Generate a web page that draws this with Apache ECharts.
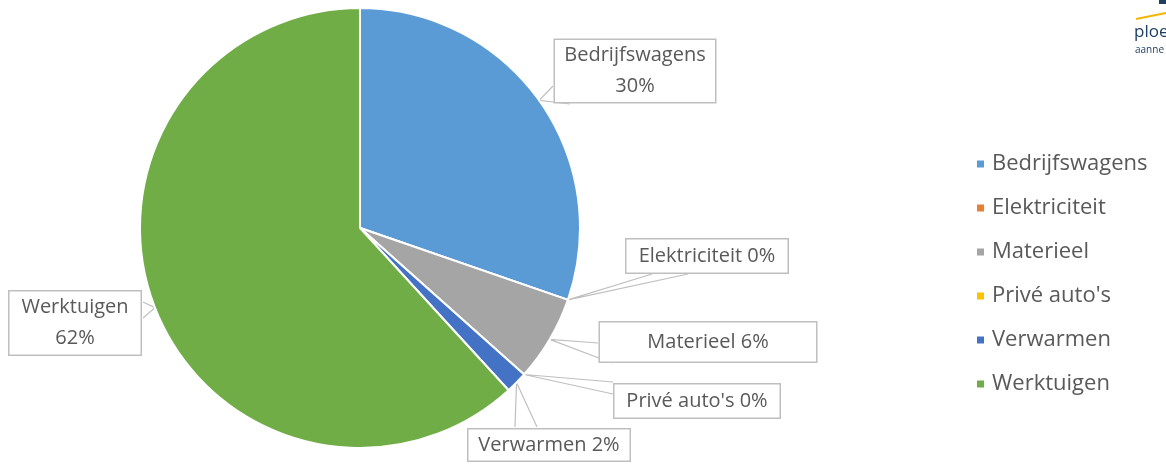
<!DOCTYPE html>
<html>
<head>
<meta charset="utf-8">
<script src="https://cdn.jsdelivr.net/npm/echarts@6/dist/echarts.min.js"></script>
<style>
html, body { margin: 0; padding: 0; background: #fff; }
#chart { width: 1166px; height: 464px; }
</style>
</head>
<body>
<div id="chart"></div>
<script>
// categorieen en aandeel (%)
var categories = ['Bedrijfswagens', 'Elektriciteit', 'Materieel', "Privé auto's", 'Verwarmen', 'Werktuigen'];
var values = [30.3, 0, 6.3, 0, 1.6, 61.8];
var colors = ['#5B9BD5', '#ED7D31', '#A5A5A5', '#FFC000', '#4472C4', '#70AD47'];

// label kaders: midden x/y, breedte, hoogte, en twee punten op de rand voor het aanwijspijltje
var boxes = [
    { x: 635, y: 71, w: 164, h: 66, p1: [553, 86], p2: [570, 104], twoLines: true },
    { x: 707, y: 256, w: 165, h: 37, p1: [652, 274], p2: [688, 274] },
    { x: 708, y: 342, w: 220, h: 43, p1: [598, 343], p2: [612, 363] },
    { x: 697, y: 401, w: 169, h: 37, p1: [613, 382], p2: [613, 394] },
    { x: 549, y: 445, w: 165, h: 35, p1: [515, 427], p2: [537, 427] },
    { x: 75, y: 323, w: 135, h: 67, p1: [143, 302], p2: [143, 318], twoLines: true }
];

var chart = echarts.init(document.getElementById('chart'));

var data = categories.map(function (name, i) {
    var b = boxes[i];
    return {
        name: name,
        value: values[i],
        itemStyle: { color: colors[i] },
        label: {
            width: b.w - 4,
            height: b.h - 4,
            lineHeight: b.twoLines ? 31 : 22
        }
    };
});

var option = {
    animation: false,
    legend: {
        orient: 'vertical',
        left: 975,
        top: 153,
        padding: 0,
        icon: 'rect',
        itemWidth: 9,
        itemHeight: 9,
        itemGap: 22,
        textStyle: {
            fontFamily: 'Open Sans',
            fontSize: 22,
            lineHeight: 22,
            color: '#595959',
            padding: [0, 0, 0, 2]
        },
        data: categories
    },
    graphic: [
        {
            type: 'line',
            shape: { x1: 1136, y1: 19, x2: 1166, y2: 13 },
            style: { stroke: '#F5B400', lineWidth: 2 }
        },
        {
            type: 'rect',
            shape: { x: 1159, y: 0, width: 7, height: 4 },
            style: { fill: '#1F3F62' }
        },
        {
            type: 'text',
            left: 1134, top: 24,
            style: { text: 'ploe', fontFamily: 'Open Sans', fontSize: 17, fill: '#1F3F62' }
        },
        {
            type: 'text',
            left: 1135, top: 45,
            style: { text: 'aanne', fontFamily: 'Open Sans', fontSize: 10, fill: '#1F3F62' }
        }
    ],
    series: [{
        type: 'pie',
        center: [360, 228],
        radius: [0, 220],
        startAngle: 90,
        clockwise: true,
        avoidLabelOverlap: false,
        emphasis: { disabled: true },
        itemStyle: { borderColor: '#fff', borderWidth: 2 },
        label: {
            show: true,
            position: 'outside',
            fontFamily: 'Open Sans',
            fontSize: 20,
            color: '#595959',
            align: 'center',
            verticalAlign: 'middle',
            backgroundColor: '#fff',
            borderColor: '#BFBFBF',
            borderWidth: 1.5,
            formatter: function (p) {
                var pct = Math.round(p.percent) + '%';
                return boxes[p.dataIndex].twoLines ? p.name + '\n' + pct : p.name + ' ' + pct;
            }
        },
        labelLine: {
            show: true,
            lineStyle: { color: '#BFBFBF', width: 1.2 }
        },
        labelLayout: function (params) {
            var b = boxes[params.dataIndex];
            var anchor = params.labelLinePoints ? params.labelLinePoints[0] : [b.x, b.y];
            return {
                x: b.x,
                y: b.y,
                align: 'center',
                verticalAlign: 'middle',
                labelLinePoints: [b.p1, anchor, b.p2]
            };
        },
        data: data
    }]
};

chart.setOption(option);
window.addEventListener('resize', function () {
    chart.resize();
});
</script>
</body>
</html>
